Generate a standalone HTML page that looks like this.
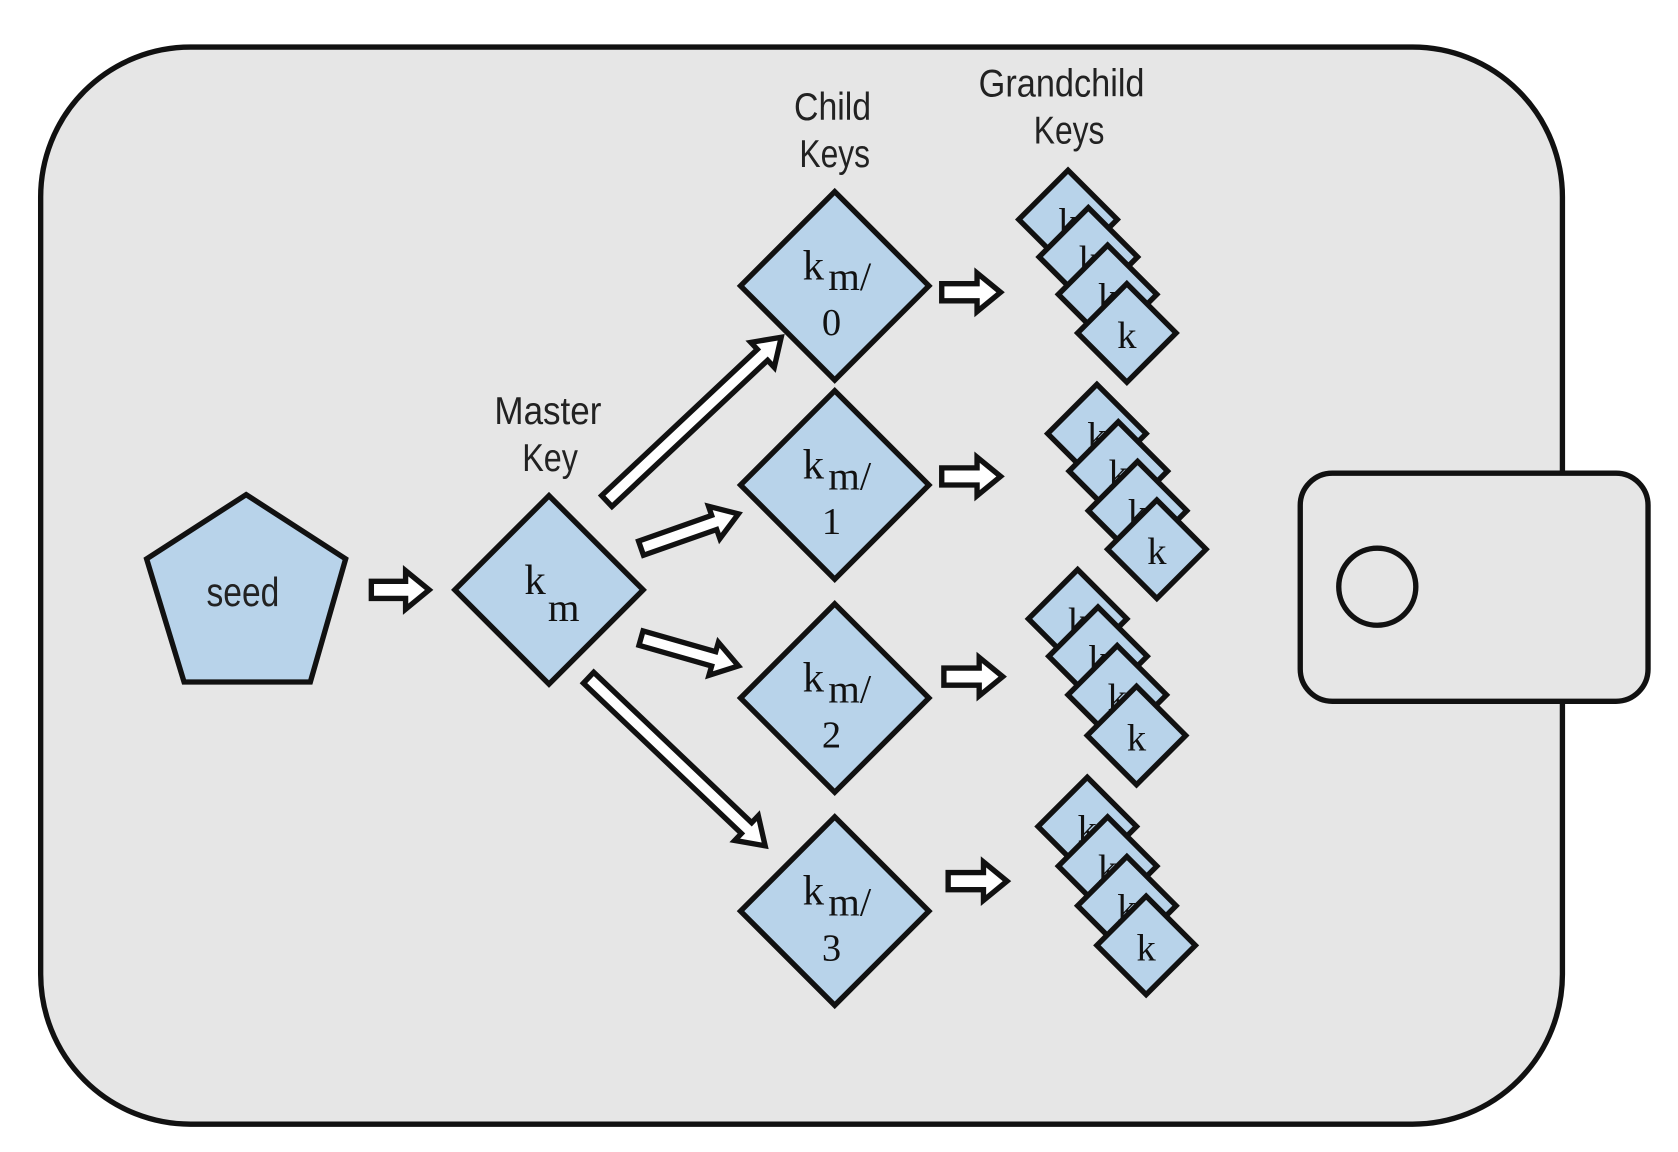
<!DOCTYPE html>
<html><head><meta charset="utf-8"><style>
html,body{margin:0;padding:0;background:#fff;}
svg{display:block;}
text{font-family:"Liberation Sans",sans-serif;}
.lbl{font-family:"Liberation Sans Narrow","Liberation Sans",sans-serif;font-size:36px;fill:#222;text-anchor:middle;}
.ser{font-family:"Liberation Serif",serif;fill:#111;}
</style></head><body>
<svg id="s" width="1678" height="1152" viewBox="0 0 1568 1076" preserveAspectRatio="none" xmlns="http://www.w3.org/2000/svg">
<rect x="38" y="44" width="1422" height="1006" rx="140" fill="#e6e6e6" stroke="#111" stroke-width="5"/>
<rect x="1215" y="442" width="325" height="213" rx="30" fill="#e6e6e6" stroke="#111" stroke-width="5"/>
<circle cx="1287" cy="548" r="36" fill="#e6e6e6" stroke="#111" stroke-width="5"/>
<polygon points="230,462 323,522 290,637 172,637 137,522" fill="#b8d3ea" stroke="#111" stroke-width="5"/>
<text x="227" y="566" class="lbl" style="font-size:38px" textLength="68" lengthAdjust="spacingAndGlyphs">seed</text>
<text x="512" y="396" class="lbl" textLength="100" lengthAdjust="spacingAndGlyphs">Master</text>
<text x="514" y="440" class="lbl" textLength="52" lengthAdjust="spacingAndGlyphs">Key</text>
<text x="778" y="112" class="lbl" textLength="72" lengthAdjust="spacingAndGlyphs">Child</text>
<text x="780" y="156" class="lbl" textLength="66" lengthAdjust="spacingAndGlyphs">Keys</text>
<text x="992" y="90" class="lbl" textLength="155" lengthAdjust="spacingAndGlyphs">Grandchild</text>
<text x="999" y="134" class="lbl" textLength="66" lengthAdjust="spacingAndGlyphs">Keys</text>
<g id="g"></g>
</svg>
<script>
var g=document.getElementById('g'),NS='http://www.w3.org/2000/svg';
function el(t,a,txt){var e=document.createElementNS(NS,t);for(var k in a)e.setAttribute(k,a[k]);if(txt)e.textContent=txt;g.appendChild(e);return e;}
function dia(cx,cy,h,sw){el('polygon',{points:(cx)+','+(cy-h)+' '+(cx+h)+','+cy+' '+cx+','+(cy+h)+' '+(cx-h)+','+cy,fill:'#b8d3ea',stroke:'#111','stroke-width':sw});}
function arrow(x1,y1,x2,y2,sw,hw,hl){
 var dx=x2-x1,dy=y2-y1,L=Math.sqrt(dx*dx+dy*dy),ux=dx/L,uy=dy/L,px=-uy,py=ux;
 var bx=x2-ux*hl,by=y2-uy*hl;
 var pts=[[x1+px*sw,y1+py*sw],[bx+px*sw,by+py*sw],[bx+px*hw,by+py*hw],[x2,y2],[bx-px*hw,by-py*hw],[bx-px*sw,by-py*sw],[x1-px*sw,y1-py*sw]];
 el('polygon',{points:pts.map(function(p){return p[0].toFixed(1)+','+p[1].toFixed(1)}).join(' '),fill:'#fff',stroke:'#111','stroke-width':5,'stroke-linejoin':'miter'});
}
arrow(347,551,401,551,8,18,22);
dia(513,551,88,5);
el('text',{x:490,y:555,'class':'ser','font-size':'40'},'k');
el('text',{x:512,y:580,'class':'ser','font-size':'38'},'m');
arrow(567,468,730,315,7,16,24);
arrow(599,512,690,480,7,16,24);
arrow(599,596,690,622,7,16,24);
arrow(550,633,715,790,7,16,24);
var cy=[267,453,652,851];
var ax=[[880,935,273],[880,935,445],[882,937,632],[886,941,823]];
var st=[[[998,205],[1017,240],[1035,275],[1053,311]],[[1025,405],[1045,440],[1063,477],[1081,513]],[[1007,578],[1026,613],[1044,649],[1062,687]],[[1016,772],[1035,809],[1053,846],[1071,883]]];
for(var i=0;i<4;i++){
 dia(780,cy[i],88,5);
 el('text',{x:750,y:cy[i]-6,'class':'ser','font-size':'40'},'k');
 el('text',{x:774,y:cy[i]+4,'class':'ser','font-size':'38'},'m/');
 el('text',{x:777,y:cy[i]+46,'class':'ser','font-size':'36','text-anchor':'middle'},''+i);
 arrow(ax[i][0],ax[i][2],ax[i][1],ax[i][2],8,18,22);
 for(var j=0;j<4;j++){var c=st[i][j];dia(c[0],c[1],46,5);
  el('text',{x:c[0],y:c[1]+14,'class':'ser','font-size':'36','text-anchor':'middle'},'k');}
}
</script>
</body></html>
